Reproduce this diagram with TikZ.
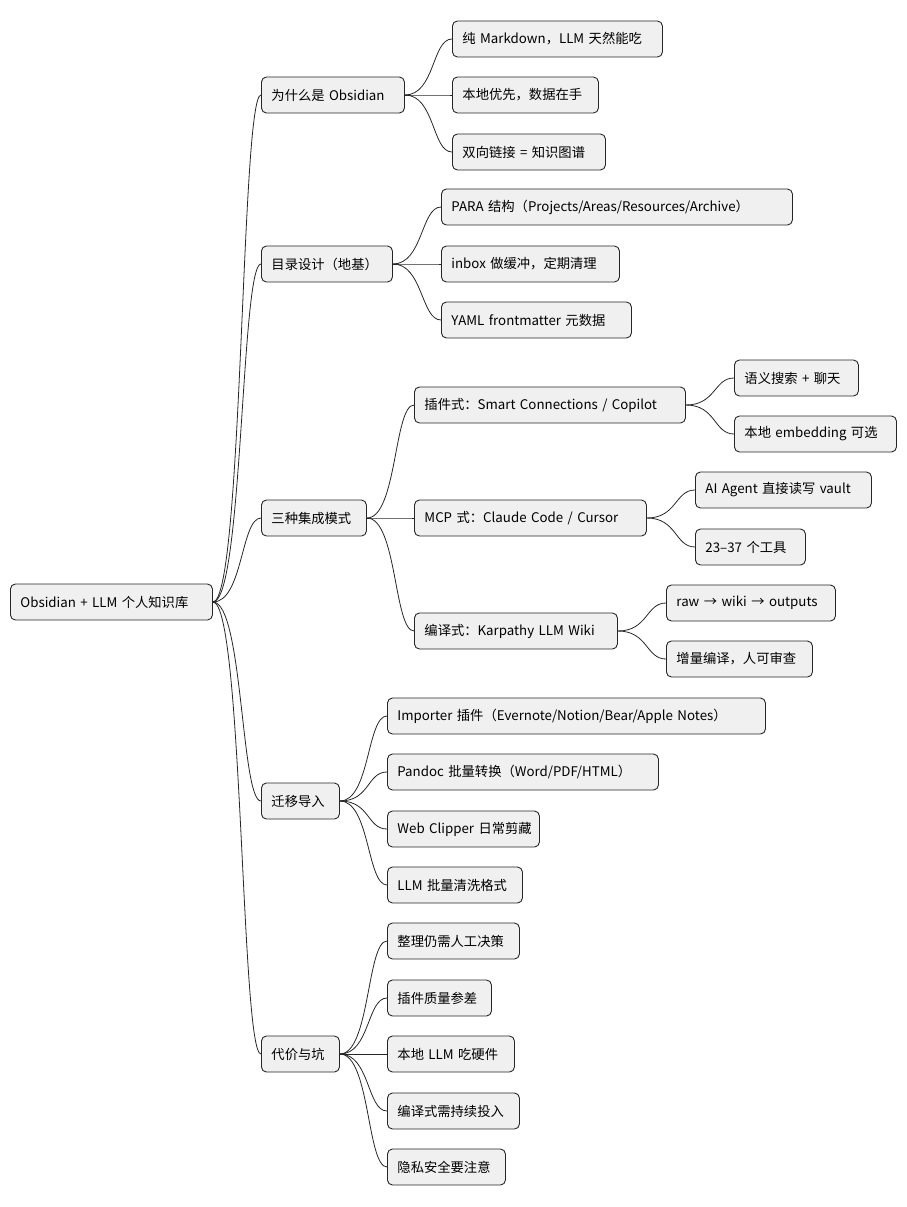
\documentclass[tikz,border=0pt]{standalone}
\usepackage{fontspec}
\setmainfont{Noto Sans CJK SC}
\begin{document}
\begin{tikzpicture}[x=1pt,y=-1pt,
  n/.style={draw=black!85,line width=0.9pt,fill=black!6,rounded corners=5pt,anchor=west,
    minimum height=36pt,inner xsep=10pt,font=\fontsize{13.3}{15}\selectfont,text width=#1-20pt,align=left},
  n/.default=30pt,
  c/.style={draw=black!85,line width=0.8pt}]
\useasboundingbox (0,0) rectangle (907,1207);
\node[n=202] (r) at (10,602) {Obsidian + LLM 个人知识库};
\node[n=143] (a) at (261,95) {为什么是 Obsidian};
\node[n=210] (a1) at (452,39) {纯 Markdown，LLM 天然能吃};
\node[n=146] (a2) at (452,95) {本地优先，数据在手};
\node[n=153] (a3) at (452,152) {双向链接 = 知识图谱};
\node[n=131] (b) at (261,264) {目录设计（地基）};
\node[n=351] (b1) at (441,207) {PARA 结构（Projects/Areas/Resources/Archive）};
\node[n=178] (b2) at (441,264) {inbox 做缓冲，定期清理};
\node[n=190] (b3) at (441,320) {YAML frontmatter 元数据};
\node[n=105] (c) at (261,518) {三种集成模式};
\node[n=271] (c1) at (414,405) {插件式：Smart Connections / Copilot};
\node[n=124] (c11) at (734,378) {语义搜索 + 聊天};
\node[n=162] (c12) at (734,434) {本地 embedding 可选};
\node[n=232] (c2) at (414,518) {MCP 式：Claude Code / Cursor};
\node[n=176] (c21) at (695,490) {AI Agent 直接读写 vault};
\node[n=110] (c22) at (695,547) {23–37 个工具};
\node[n=203] (c3) at (414,631) {编译式：Karpathy LLM Wiki};
\node[n=169] (c31) at (666,603) {raw → wiki → outputs};
\node[n=146] (c32) at (666,659) {增量编译，人可审查};
\node[n=78] (d) at (261,801) {迁移导入};
\node[n=378] (d1) at (387,716) {Importer 插件（Evernote/Notion/Bear/Apple Notes）};
\node[n=271] (d2) at (387,772) {Pandoc 批量转换（Word/PDF/HTML）};
\node[n=152] (d3) at (387,829) {\mbox{Web Clipper 日常剪藏}};
\node[n=135] (d4) at (387,885) {LLM 批量清洗格式};
\node[n=78] (e) at (261,1054) {代价与坑};
\node[n=132] (e1) at (387,941) {整理仍需人工决策};
\node[n=104] (e2) at (387,998) {插件质量参差};
\node[n=127] (e3) at (387,1054) {本地 LLM 吃硬件};
\node[n=132] (e4) at (387,1111) {编译式需持续投入};
\node[n=118] (e5) at (387,1167) {隐私安全要注意};
\foreach \p/\k in {r/a,r/b,r/c,r/d,r/e,a/a1,a/a2,a/a3,b/b1,b/b2,b/b3,c/c1,c/c2,c/c3,
  c1/c11,c1/c12,c2/c21,c2/c22,c3/c31,c3/c32,d/d1,d/d2,d/d3,d/d4,e/e1,e/e2,e/e3,e/e4,e/e5}
  \draw[c] (\p.east) .. controls ([xshift=30pt]\p.east) and ([xshift=-20pt]\k.west) .. (\k.west);
\end{tikzpicture}
\end{document}
